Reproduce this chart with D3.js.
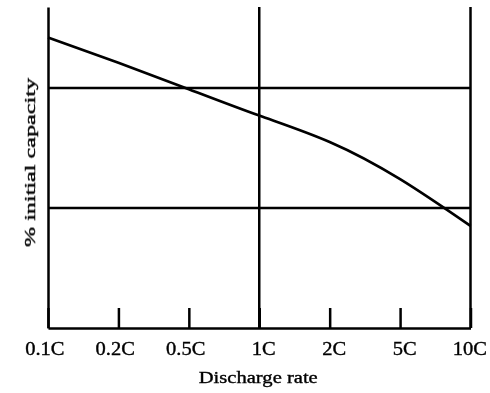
<!DOCTYPE html>
<html><head><meta charset="utf-8">
<script src="https://cdn.jsdelivr.net/npm/d3@7"></script>
<style>html,body{margin:0;padding:0;background:#fff;} svg{display:block}</style>
</head><body>
<script>
// ---- data ----
const categories = ["0.1C", "0.2C", "0.5C", "1C", "2C", "5C", "10C"];
const capacityValues = [94.2, 92.1, 89.9, 87.7, 85.5, 82.4, 78.5];
const gridValues = [80, 90];
const fullLineCategories = ["1C", "10C"];
const xTitle = "Discharge rate";
const yTitle = "% initial capacity";

// ---- layout ----
const W = 490, H = 393;
const svg = d3.select("body").append("svg").attr("width", W).attr("height", H);

const defs = svg.append("defs");
defs.append("filter").attr("id", "soft")
  .append("feGaussianBlur").attr("stdDeviation", 0.4);

const x = d3.scalePoint().domain(categories).range([48, 470.5]);
const y = d3.scaleLinear().domain([70, 96.75]).range([328, 7]);
const [yBottom, yTop] = y.range();

const ink = "#000";
const lw = 2.5;
const serif = "'Liberation Serif', 'Times New Roman', serif";

function textStyle(sel, size) {
  sel.attr("font-family", serif)
    .attr("font-size", size)
    .attr("fill", "#000")
    .attr("stroke", "#000")
    .attr("stroke-width", 0.35)
    .attr("filter", "url(#soft)");
}

// horizontal grid lines
svg.append("g").selectAll("line").data(gridValues).join("line")
  .attr("x1", x.range()[0]).attr("x2", x.range()[1])
  .attr("y1", d => y(d)).attr("y2", d => y(d))
  .attr("stroke", ink).attr("stroke-width", lw);

// full-height vertical lines
svg.append("g").selectAll("line").data(fullLineCategories).join("line")
  .attr("x1", d => x(d)).attr("x2", d => x(d))
  .attr("y1", yTop).attr("y2", yBottom)
  .attr("stroke", ink).attr("stroke-width", lw);

// left axis
svg.append("g").attr("transform", `translate(${x.range()[0]},0)`)
  .call(d3.axisLeft(y).tickValues([]).tickSizeOuter(0))
  .call(g => g.select(".domain").attr("stroke", ink).attr("stroke-width", lw));

// bottom axis with short inward ticks
const xAxis = svg.append("g").attr("transform", `translate(0,${yBottom})`)
  .call(d3.axisBottom(x).tickSize(-20).tickSizeOuter(0).tickPadding(0));
xAxis.select(".domain").attr("stroke", ink).attr("stroke-width", lw);
xAxis.selectAll(".tick line").attr("stroke", ink).attr("stroke-width", lw);
xAxis.selectAll(".tick text")
  .call(textStyle, 18)
  .attr("text-anchor", "end")
  .attr("x", 16)
  .attr("y", 27)
  .attr("dy", null)
  .each(function() {
    const len = this.getComputedTextLength();
    d3.select(this).attr("textLength", len * 1.14).attr("lengthAdjust", "spacingAndGlyphs");
  });

// curve
const line = d3.line()
  .x((d, i) => x(categories[i]))
  .y(d => y(d))
  .curve(d3.curveNatural);
svg.append("path").datum(capacityValues)
  .attr("d", line)
  .attr("fill", "none")
  .attr("stroke", ink)
  .attr("stroke-width", 2.7);

// titles
svg.append("text")
  .attr("x", x("1C") - 1).attr("y", 383)
  .attr("text-anchor", "middle")
  .call(textStyle, 16.5)
  .attr("textLength", 119).attr("lengthAdjust", "spacingAndGlyphs")
  .text(xTitle);

svg.append("text")
  .attr("transform", `translate(35,${(yTop + yBottom) / 2 - 5}) rotate(-90)`)
  .attr("text-anchor", "middle")
  .call(textStyle, 15)
  .attr("textLength", 169).attr("lengthAdjust", "spacingAndGlyphs")
  .text(yTitle);
</script>
</body></html>
